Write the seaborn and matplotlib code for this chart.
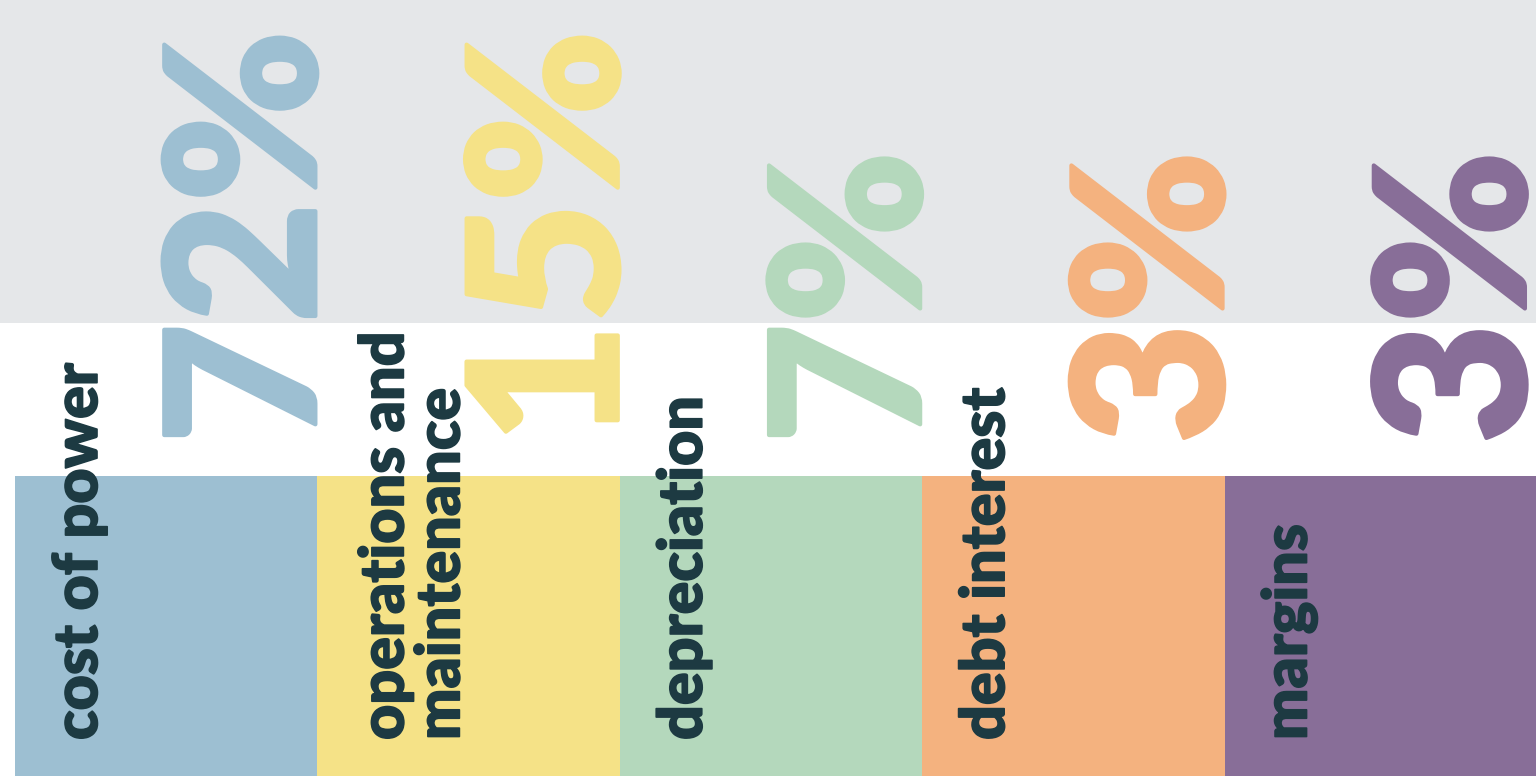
import numpy as np
import pandas as pd
import matplotlib
matplotlib.use("Agg")
import matplotlib.pyplot as plt
import matplotlib.patheffects as pe
import seaborn as sns

categories = ["cost of power", "operations and\nmaintenance", "depreciation", "debt interest", "margins"]
shares = [72, 15, 7, 3, 3]
colors = ["#9dbfd2", "#f5e287", "#b4d8bc", "#f4b27f", "#886e98"]

sns.set_theme(style="white")
plt.rcParams["font.family"] = ["Lato", "DejaVu Sans"]

W, H = 1536, 776
fig = plt.figure(figsize=(W / 100, H / 100), dpi=100)
fig.patch.set_facecolor("white")

# background axes (pixel coordinates)
bg = fig.add_axes([0, 0, 1, 1])
bg.set_xlim(0, W)
bg.set_ylim(H, 0)
bg.axis("off")
bg.axhspan(0, 323, color="#e5e7e9", lw=0)

# colored blocks
n = len(categories)
bar_w = 1.03
left, top = 15, 476
bar_ax = fig.add_axes([left / W, 0, (W - left) / W, (H - top) / H])
df = pd.DataFrame({"category": categories, "block": np.ones(n)})
sns.barplot(data=df, x="category", y="block", hue="category", palette=colors,
            width=bar_w, legend=False, ax=bar_ax, saturation=1)
bar_ax.set_xlim(-bar_w / 2, n - 1 + bar_w / 2)
bar_ax.set_ylim(0, 1)
bar_ax.axis("off")
for p in bar_ax.patches:
    p.set_linewidth(0)

# text overlay
tx = fig.add_axes([0, 0, 1, 1])
tx.set_xlim(0, W)
tx.set_ylim(H, 0)
tx.axis("off")
tx.patch.set_alpha(0)

colw = (W - left) / (n - 1 + bar_w)
for i, (cat, v, c) in enumerate(zip(categories, shares, colors)):
    x0 = left + i * colw
    x1 = left + (i + 1) * colw
    # big percentage, reading bottom to top
    tx.text(x1 - 2, 444, f"{v}%", rotation=90, rotation_mode="anchor",
            ha="left", va="baseline", color=c, fontsize=150, fontweight=900,
            path_effects=[pe.withStroke(linewidth=3, foreground=c)])
    # category label
    lx = x0 + (142 if "\n" in cat else 82)
    tx.text(lx, 740, cat, rotation=90, rotation_mode="anchor",
            ha="left", va="baseline", color="#1d3a42", fontsize=44,
            fontweight=900, linespacing=1.0,
            path_effects=[pe.withStroke(linewidth=1.2, foreground="#1d3a42")])

fig.savefig("out.png", dpi=100)
